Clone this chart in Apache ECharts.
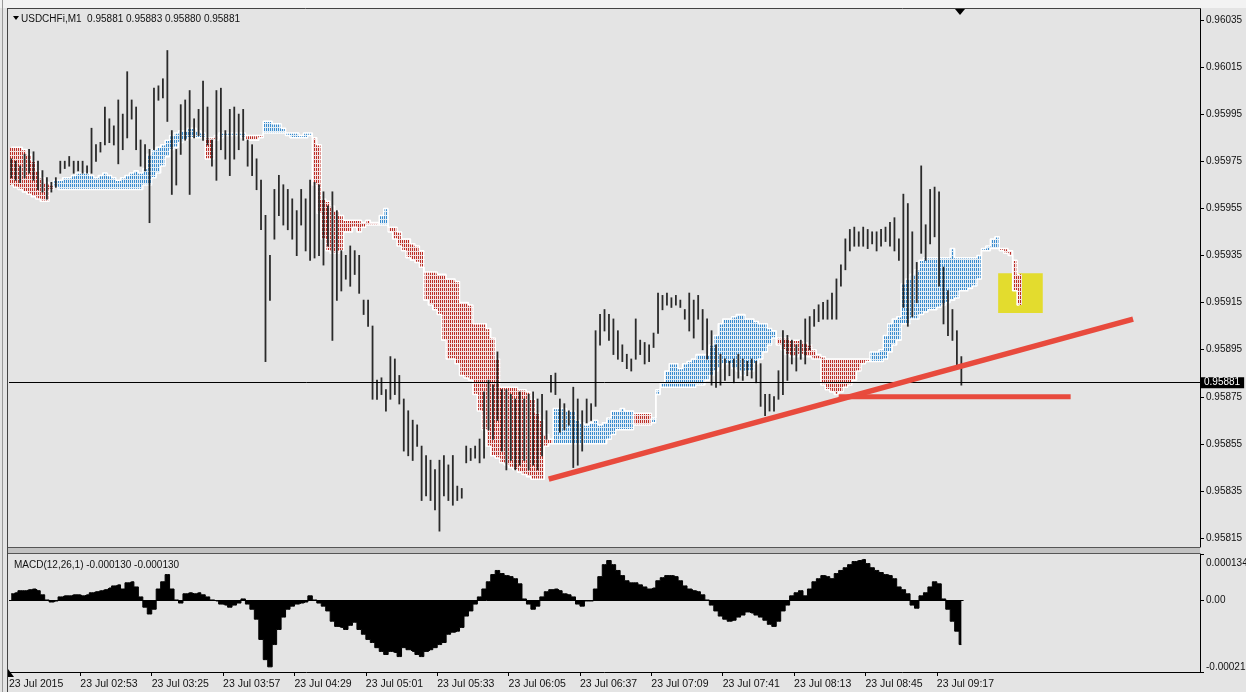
<!DOCTYPE html>
<html>
<head>
<meta charset="utf-8">
<title>USDCHFi,M1</title>
<script src="https://cdn.jsdelivr.net/npm/echarts@6.0.0/dist/echarts.min.js"></script>
<style>
  html, body { margin: 0; padding: 0; background: #e4e4e4; }
  #chart { width: 1246px; height: 692px; }
</style>
</head>
<body>
<div id="chart"></div>
<script>
// one slot = 2 minutes; minute 0 = 23 Jul 2015 02:21
const SLOT = 2;

const timeTicks = [0, 32, 64, 96, 128, 160, 192, 224, 256, 288, 320, 352, 384, 416];
const timeLabels = ['23 Jul 2015', '23 Jul 02:53', '23 Jul 03:25', '23 Jul 03:57', '23 Jul 04:29',
  '23 Jul 05:01', '23 Jul 05:33', '23 Jul 06:05', '23 Jul 06:37', '23 Jul 07:09',
  '23 Jul 07:41', '23 Jul 08:13', '23 Jul 08:45', '23 Jul 09:17'];

const priceTicks = [0.95815, 0.95835, 0.95855, 0.95875, 0.95895, 0.95915,
  0.95935, 0.95955, 0.95975, 0.95995, 0.96015, 0.96035];
const macdTicks = [0.000134, 0, -0.00021];
const macdTickText = ['0.000134', '0.00', '-0.00021'];

const lastOHLC = [0.95881, 0.95883, 0.95880, 0.95881];
const lastMacd = [-0.000130, -0.000130];

const high = [
  0.95976,0.95975,0.95973,0.95978,0.95980,0.95979,0.95975,0.95971,0.95968,0.95966,
  0.95968,0.95975,0.95975,0.95977,0.95975,0.95975,0.95975,0.95973,0.95989,0.95982,
  0.95983,0.95998,0.95993,0.95990,0.96001,0.95995,0.96013,0.96001,0.95998,0.95984,
  0.95982,0.95980,0.96006,0.96007,0.96010,0.96022,0.95988,0.95980,0.95999,0.96001,
  0.96005,0.95993,0.95997,0.96009,0.95998,0.95984,0.96005,0.96006,0.95988,0.95997,
  0.95998,0.95995,0.95997,0.95984,0.95982,0.95976,0.95967,0.95952,0.95935,0.95963,
  0.95969,0.95965,0.95963,0.95959,0.95954,0.95963,0.95959,0.95967,0.95966,0.95965,
  0.95962,0.95956,0.95962,0.95954,0.95937,0.95935,0.95939,0.95937,0.95935,0.95916,
  0.95916,0.95905,0.95882,0.95883,0.95878,0.95892,0.95891,0.95884,0.95874,0.95869,
  0.95865,0.95863,0.95854,0.95850,0.95848,0.95844,0.95848,0.95850,0.95846,0.95850,
  0.95837,0.95836,0.95854,0.95853,0.95854,0.95857,0.95877,0.95882,0.95880,0.95894,
  0.95878,0.95878,0.95876,0.95874,0.95877,0.95874,0.95876,0.95877,0.95874,0.95876,
  0.95869,0.95884,0.95885,0.95874,0.95872,0.95869,0.95879,0.95874,0.95869,0.95874,
  0.95872,0.95903,0.95910,0.95912,0.95910,0.95908,0.95903,0.95897,0.95893,0.95891,
  0.95908,0.95899,0.95898,0.95897,0.95902,0.95919,0.95918,0.95919,0.95917,0.95918,
  0.95916,0.95912,0.95919,0.95916,0.95918,0.95912,0.95908,0.95903,0.95897,0.95893,
  0.95891,0.95890,0.95891,0.95893,0.95891,0.95890,0.95891,0.95890,0.95889,0.95876,
  0.95876,0.95875,0.95886,0.95903,0.95901,0.95899,0.95897,0.95899,0.95908,0.95909,
  0.95912,0.95914,0.95915,0.95916,0.95919,0.95925,0.95931,0.95942,0.95946,0.95947,
  0.95945,0.95947,0.95946,0.95945,0.95945,0.95946,0.95947,0.95949,0.95951,0.95942,
  0.95961,0.95957,0.95945,0.95932,0.95973,0.95948,0.95963,0.95964,0.95962,0.95930,
  0.95920,0.95912,0.95903,0.95892
];
const low = [
  0.95968,0.95967,0.95966,0.95968,0.95970,0.95967,0.95963,0.95962,0.95959,0.95962,
  0.95964,0.95970,0.95972,0.95973,0.95970,0.95971,0.95970,0.95970,0.95970,0.95975,
  0.95979,0.95982,0.95983,0.95982,0.95974,0.95980,0.95985,0.95993,0.95980,0.95973,
  0.95971,0.95949,0.95980,0.96001,0.96002,0.95992,0.95961,0.95965,0.95978,0.95984,
  0.95961,0.95985,0.95986,0.95984,0.95982,0.95973,0.95967,0.95980,0.95976,0.95969,
  0.95976,0.95980,0.95984,0.95973,0.95969,0.95963,0.95946,0.95890,0.95916,0.95942,
  0.95952,0.95948,0.95946,0.95942,0.95935,0.95948,0.95937,0.95933,0.95934,0.95935,
  0.95931,0.95939,0.95899,0.95916,0.95920,0.95925,0.95922,0.95927,0.95919,0.95910,
  0.95905,0.95874,0.95874,0.95876,0.95869,0.95874,0.95876,0.95872,0.95852,0.95850,
  0.95848,0.95854,0.95831,0.95833,0.95831,0.95827,0.95818,0.95833,0.95831,0.95829,
  0.95831,0.95832,0.95847,0.95848,0.95849,0.95847,0.95849,0.95861,0.95857,0.95865,
  0.95852,0.95844,0.95848,0.95844,0.95846,0.95848,0.95844,0.95846,0.95844,0.95850,
  0.95857,0.95877,0.95876,0.95860,0.95861,0.95863,0.95845,0.95846,0.95852,0.95864,
  0.95865,0.95871,0.95897,0.95903,0.95899,0.95893,0.95891,0.95890,0.95887,0.95886,
  0.95891,0.95893,0.95889,0.95890,0.95896,0.95902,0.95912,0.95914,0.95913,0.95914,
  0.95913,0.95908,0.95903,0.95900,0.95908,0.95895,0.95891,0.95880,0.95879,0.95880,
  0.95882,0.95884,0.95881,0.95883,0.95882,0.95884,0.95883,0.95881,0.95871,0.95867,
  0.95869,0.95869,0.95874,0.95876,0.95882,0.95889,0.95886,0.95891,0.95889,0.95895,
  0.95905,0.95907,0.95908,0.95908,0.95908,0.95908,0.95922,0.95929,0.95937,0.95939,
  0.95939,0.95939,0.95938,0.95940,0.95937,0.95939,0.95941,0.95939,0.95937,0.95933,
  0.95913,0.95905,0.95909,0.95915,0.95936,0.95933,0.95940,0.95943,0.95922,0.95906,
  0.95901,0.95899,0.95888,0.95880
];

// Ichimoku cloud borders (Senkou Span A / B), shifted 26 bars ahead
const spanA = [
  0.95965,0.95964,0.95963,0.95962,0.95961,0.95960,0.95959,0.95958,0.95958,0.95963,
  0.95967,0.95967,0.95968,0.95968,0.95969,0.95970,0.95970,0.95970,0.95969,0.95968,
  0.95969,0.95970,0.95969,0.95968,0.95967,0.95968,0.95969,0.95970,0.95971,0.95970,
  0.95972,0.95978,0.95980,0.95981,0.95982,0.95984,0.95986,0.95987,0.95988,0.95988,
  0.95989,0.95989,0.95988,0.95987,0.95976,0.95976,0.95984,0.95987,0.95987,0.95987,
  0.95987,0.95987,0.95987,0.95984,0.95984,0.95984,0.95985,0.95992,0.95992,0.95991,
  0.95991,0.95989,0.95987,0.95987,0.95987,0.95986,0.95987,0.95987,0.95965,0.95953,
  0.95942,0.95937,0.95936,0.95936,0.95937,0.95945,0.95945,0.95947,0.95945,0.95947,
  0.95948,0.95948,0.95948,0.95952,0.95955,0.95945,0.95942,0.95939,0.95937,0.95934,
  0.95933,0.95932,0.95930,0.95916,0.95914,0.95912,0.95910,0.95899,0.95891,0.95891,
  0.95889,0.95884,0.95883,0.95882,0.95876,0.95869,0.95861,0.95854,0.95850,0.95849,
  0.95847,0.95846,0.95845,0.95844,0.95843,0.95842,0.95841,0.95840,0.95840,0.95840,
  0.95854,0.95855,0.95870,0.95870,0.95870,0.95869,0.95869,0.95865,0.95864,0.95863,
  0.95864,0.95865,0.95863,0.95864,0.95866,0.95869,0.95869,0.95870,0.95869,0.95869,
  0.95863,0.95863,0.95863,0.95863,0.95866,0.95878,0.95881,0.95886,0.95889,0.95889,
  0.95887,0.95889,0.95890,0.95891,0.95893,0.95893,0.95893,0.95897,0.95901,0.95906,
  0.95908,0.95908,0.95909,0.95910,0.95910,0.95908,0.95908,0.95907,0.95906,0.95906,
  0.95904,0.95903,0.95897,0.95895,0.95893,0.95892,0.95892,0.95893,0.95892,0.95892,
  0.95891,0.95891,0.95880,0.95878,0.95877,0.95876,0.95877,0.95879,0.95880,0.95882,
  0.95886,0.95889,0.95890,0.95894,0.95894,0.95895,0.95901,0.95906,0.95908,0.95909,
  0.95923,0.95925,0.95927,0.95929,0.95933,0.95934,0.95934,0.95934,0.95934,0.95934,
  0.95934,0.95938,0.95934,0.95934,0.95934,0.95934,0.95934,0.95935,0.95938,0.95939,
  0.95942,0.95943,0.95937,0.95936,0.95935,0.95920,0.95914
];
const spanB = [
  0.95981,0.95981,0.95981,0.95980,0.95978,0.95975,0.95971,0.95968,0.95966,0.95965,
  0.95964,0.95963,0.95963,0.95963,0.95963,0.95963,0.95963,0.95963,0.95963,0.95963,
  0.95963,0.95963,0.95963,0.95963,0.95963,0.95963,0.95963,0.95963,0.95963,0.95963,
  0.95965,0.95965,0.95968,0.95970,0.95973,0.95977,0.95980,0.95981,0.95983,0.95984,
  0.95985,0.95985,0.95985,0.95985,0.95985,0.95985,0.95986,0.95985,0.95986,0.95986,
  0.95986,0.95986,0.95985,0.95986,0.95986,0.95986,0.95986,0.95987,0.95987,0.95987,
  0.95987,0.95987,0.95986,0.95985,0.95985,0.95985,0.95985,0.95986,0.95985,0.95982,
  0.95959,0.95958,0.95956,0.95954,0.95952,0.95950,0.95950,0.95950,0.95950,0.95949,
  0.95950,0.95949,0.95949,0.95948,0.95948,0.95947,0.95947,0.95945,0.95942,0.95942,
  0.95940,0.95939,0.95937,0.95928,0.95928,0.95928,0.95927,0.95927,0.95925,0.95925,
  0.95924,0.95915,0.95915,0.95914,0.95906,0.95906,0.95906,0.95904,0.95900,0.95891,
  0.95879,0.95879,0.95879,0.95879,0.95878,0.95878,0.95877,0.95874,0.95868,0.95865,
  0.95859,0.95857,0.95855,0.95855,0.95855,0.95855,0.95855,0.95855,0.95855,0.95855,
  0.95855,0.95855,0.95855,0.95855,0.95857,0.95859,0.95861,0.95861,0.95861,0.95861,
  0.95868,0.95868,0.95868,0.95868,0.95864,0.95876,0.95879,0.95879,0.95879,0.95879,
  0.95879,0.95879,0.95879,0.95879,0.95880,0.95880,0.95882,0.95884,0.95886,0.95887,
  0.95889,0.95889,0.95887,0.95886,0.95884,0.95886,0.95886,0.95889,0.95891,0.95894,
  0.95897,0.95900,0.95900,0.95900,0.95900,0.95899,0.95899,0.95899,0.95898,0.95897,
  0.95895,0.95893,0.95892,0.95891,0.95891,0.95891,0.95891,0.95891,0.95891,0.95891,
  0.95891,0.95891,0.95891,0.95890,0.95890,0.95890,0.95891,0.95894,0.95897,0.95899,
  0.95906,0.95906,0.95908,0.95908,0.95910,0.95911,0.95912,0.95912,0.95913,0.95914,
  0.95915,0.95916,0.95917,0.95920,0.95920,0.95921,0.95922,0.95925,0.95937,0.95937,
  0.95938,0.95938,0.95938,0.95938,0.95937,0.95933,0.95927
];

// MACD(12,26,1) main line, in millionths
const macdMicro = [
  18,21,27,27,30,32,27,15,0,-6,
  -3,9,12,12,15,15,12,15,21,24,
  27,30,35,41,44,32,50,53,38,9,
  -21,-41,-27,32,53,74,32,0,-9,18,
  21,18,21,15,9,0,-3,-12,-15,-21,
  -15,-9,3,-12,-27,-56,-115,-174,-195,-130,
  -86,-50,-27,-18,-12,-9,-6,12,0,-9,
  -18,-32,-62,-77,-80,-86,-74,-65,-86,-100,
  -115,-124,-139,-150,-159,-150,-153,-165,-139,-145,
  -150,-159,-165,-150,-145,-139,-130,-124,-100,-94,
  -91,-80,-47,-32,-12,9,32,53,74,86,
  77,71,68,62,47,3,-12,-27,-18,9,
  24,30,32,27,18,15,9,-12,-18,-3,
  -3,32,68,103,115,103,86,71,56,50,
  50,44,38,32,35,56,65,71,71,68,
  56,41,32,27,24,15,0,-15,-32,-47,
  -56,-62,-59,-50,-44,-35,-38,-44,-50,-59,
  -71,-77,-62,-32,-15,12,21,27,12,32,
  53,62,71,68,62,77,86,94,103,112,
  115,118,106,94,86,80,74,71,62,38,
  30,18,-15,-24,12,21,38,53,47,3,
  -27,-62,-91,-130
];

// hand-drawn objects: [minute, price]
const trendUp = [[242, 0.95840], [504, 0.95908]];
const trendFlat = [[372, 0.95875], [476, 0.95875]];
const yellowBox = [[443.5, 0.959275], [463.5, 0.959106]];

const PRICE_MIN = 0.958112, PRICE_MAX = 0.960397;
const MACD_MIN = -0.00021, MACD_MAX = 0.000134;
const X_MAX = 534;

const barData = high.map((h, i) => [i * SLOT + 1, low[i], h]);
const cloudData = spanA.map((a, i) => [i * SLOT, a, spanB[i]]);
const spanAData = spanA.map((a, i) => [i * SLOT + 1, a]);
const spanBData = spanB.map((b, i) => [i * SLOT + 1, b]);
const macdData = macdMicro.map((v, i) => [i * SLOT + 1, v / 1e6]);

function tile(dash, bg) {
  const c = document.createElement('canvas');
  c.width = 2; c.height = 4;
  const g = c.getContext('2d');
  g.fillStyle = bg; g.fillRect(0, 0, 2, 4);
  g.fillStyle = dash; g.fillRect(0, 0, 1, 3);
  return { image: c, repeat: 'repeat' };
}
const bluePattern = tile('#3a8ccf', '#e2edf5');
const redPattern = tile('#bb2e27', '#f3e0e0');

const FONT = '"Liberation Sans", Arial, sans-serif';
const chart = echarts.init(document.getElementById('chart'));

const option = {
  animation: false,
  backgroundColor: '#e4e4e4',
  textStyle: { fontFamily: FONT },
  grid: [
    { left: 9, top: 9, width: 1191, height: 538, containLabel: false, outerBoundsMode: 'none' },
    { left: 9, top: 554, width: 1191, height: 118, containLabel: false, outerBoundsMode: 'none' }
  ],
  xAxis: [
    { gridIndex: 0, type: 'value', min: 0, max: X_MAX, show: false },
    {
      gridIndex: 1, type: 'value', min: 0, max: X_MAX,
      axisLine: { onZero: false, lineStyle: { color: '#000', width: 1 } },
      axisTick: { customValues: timeTicks, length: 4, lineStyle: { color: '#000' } },
      axisLabel: {
        customValues: timeTicks, align: 'left', margin: 7, fontSize: 10.5, color: '#111',
        formatter: (v) => timeLabels[timeTicks.indexOf(Math.round(v))]
      },
      splitLine: { show: false }
    }
  ],
  yAxis: [
    {
      gridIndex: 0, type: 'value', position: 'right', min: PRICE_MIN, max: PRICE_MAX,
      axisLine: { show: true, onZero: false, lineStyle: { color: '#000' } },
      axisTick: { show: true, customValues: priceTicks, length: 4, lineStyle: { color: '#000' } },
      axisLabel: {
        customValues: priceTicks, margin: 6, fontSize: 10, color: '#111',
        formatter: (v) => v.toFixed(5)
      },
      splitLine: { show: false }
    },
    {
      gridIndex: 1, type: 'value', position: 'right', min: MACD_MIN, max: MACD_MAX,
      axisLine: { show: true, onZero: false, lineStyle: { color: '#000' } },
      axisTick: { show: true, customValues: macdTicks, length: 4, lineStyle: { color: '#000' } },
      axisLabel: {
        customValues: macdTicks, margin: 6, fontSize: 10, color: '#111',
        formatter: (v) => {
          let k = 0;
          macdTicks.forEach((t, i) => { if (Math.abs(t - v) < Math.abs(macdTicks[k] - v)) k = i; });
          return k === 0 ? '{t|' + macdTickText[k] + '}' : k === 2 ? '{b|' + macdTickText[k] + '}' : macdTickText[k];
        },
        rich: {
          t: { fontSize: 10, color: '#111', padding: [18, 0, 0, 0] },
          b: { fontSize: 10, color: '#111', padding: [0, 0, 10, 0] }
        }
      },
      splitLine: { show: false }
    }
  ],
  series: [
    {
      // yellow highlight box
      type: 'line', xAxisIndex: 0, yAxisIndex: 0, data: [], z: 1,
      markArea: {
        silent: true,
        itemStyle: { color: '#e3dc2e', opacity: 1 },
        data: [[{ coord: yellowBox[0] }, { coord: yellowBox[1] }]]
      }
    },
    {
      type: 'custom', xAxisIndex: 0, yAxisIndex: 0, z: 2,
      data: cloudData,
      encode: { x: 0, y: [1, 2] },
      renderItem: (params, api) => {
        const x0 = api.value(0), a = api.value(1), b = api.value(2);
        const p1 = api.coord([x0, Math.max(a, b)]);
        const p2 = api.coord([x0 + SLOT, Math.min(a, b)]);
        return {
          type: 'rect',
          shape: { x: p1[0], y: p1[1], width: p2[0] - p1[0] + 0.4, height: Math.max(p2[1] - p1[1], 0) },
          style: { fill: a >= b ? bluePattern : redPattern }
        };
      }
    },
    {
      type: 'line', xAxisIndex: 0, yAxisIndex: 0, z: 3, data: spanAData, step: 'middle',
      symbol: 'none', lineStyle: { color: '#ffffff', width: 1.5 }, silent: true
    },
    {
      type: 'line', xAxisIndex: 0, yAxisIndex: 0, z: 3, data: spanBData, step: 'middle',
      symbol: 'none', lineStyle: { color: '#ffffff', width: 1.5 }, silent: true
    },
    {
      type: 'custom', xAxisIndex: 0, yAxisIndex: 0, z: 4,
      data: barData,
      encode: { x: 0, y: [1, 2] },
      renderItem: (params, api) => {
        const x = api.value(0);
        const lo = api.coord([x, api.value(1)]);
        const hi = api.coord([x, api.value(2)]);
        return {
          type: 'line',
          shape: { x1: lo[0], y1: lo[1] + 0.5, x2: hi[0], y2: hi[1] - 0.5 },
          style: { stroke: '#2a2a2a', lineWidth: 1.8 }
        };
      }
    },
    {
      // current price line
      type: 'line', xAxisIndex: 0, yAxisIndex: 0, data: [], z: 5,
      markLine: {
        silent: true, symbol: ['none', 'none'],
        lineStyle: { color: '#000', width: 1, type: 'solid' },
        label: {
          position: 'end', distance: 1, formatter: () => lastOHLC[3].toFixed(5),
          backgroundColor: '#000', color: '#fff', fontSize: 10, padding: [1, 4, 0, 3]
        },
        data: [[{ coord: [0, lastOHLC[3]] }, { coord: [X_MAX, lastOHLC[3]] }]]
      }
    },
    {
      type: 'line', xAxisIndex: 0, yAxisIndex: 0, z: 6, data: trendUp, symbol: 'none',
      lineStyle: { color: '#e84a3d', width: 5.5, cap: 'butt' }, silent: true
    },
    {
      type: 'line', xAxisIndex: 0, yAxisIndex: 0, z: 6, data: trendFlat, symbol: 'none',
      lineStyle: { color: '#e84a3d', width: 5, cap: 'butt' }, silent: true
    },
    {
      type: 'line', xAxisIndex: 1, yAxisIndex: 1, data: macdData, step: 'middle',
      symbol: 'none', lineStyle: { color: '#000', width: 1 },
      areaStyle: { color: '#000', opacity: 1 }, silent: true,
      markLine: {
        silent: true, symbol: ['none', 'none'],
        lineStyle: { color: '#000', width: 1, type: 'solid' }, label: { show: false },
        data: [[{ coord: [0, 0] }, { coord: [macdMicro.length * SLOT, 0] }]]
      }
    }
  ],
  graphic: [
    { type: 'rect', shape: { x: 0, y: 0, width: 1246, height: 8 }, style: { fill: '#f3f3f3' }, z: 100 },
    { type: 'line', shape: { x1: 7, y1: 8.5, x2: 1201, y2: 8.5 }, style: { stroke: '#444', lineWidth: 1 }, z: 100 },
    { type: 'line', shape: { x1: 2.5, y1: 0, x2: 2.5, y2: 692 }, style: { stroke: '#9a9a9a', lineWidth: 1 }, z: 100 },
    { type: 'line', shape: { x1: 7.5, y1: 8, x2: 7.5, y2: 692 }, style: { stroke: '#444', lineWidth: 1 }, z: 100 },
    { type: 'rect', shape: { x: 8, y: 547, width: 1192, height: 6 }, style: { fill: '#c2c2c2' }, z: 100 },
    { type: 'line', shape: { x1: 8, y1: 547.5, x2: 1200, y2: 547.5 }, style: { stroke: '#555', lineWidth: 1 }, z: 100 },
    { type: 'line', shape: { x1: 8, y1: 553.5, x2: 1200, y2: 553.5 }, style: { stroke: '#555', lineWidth: 1 }, z: 100 },
    { type: 'polygon', shape: { points: [[13, 16], [19, 16], [16, 20]] }, style: { fill: '#000' }, z: 100 },
    {
      type: 'text', x: 21, y: 19, z: 100,
      style: {
        text: 'USDCHFi,M1  ' + lastOHLC.map((v) => v.toFixed(5)).join(' '),
        font: '10px ' + FONT, fill: '#111', verticalAlign: 'middle'
      }
    },
    {
      type: 'text', x: 14, y: 565, z: 100,
      style: {
        text: 'MACD(12,26,1) ' + lastMacd.map((v) => v.toFixed(6)).join(' '),
        font: '10px ' + FONT, fill: '#111', verticalAlign: 'middle'
      }
    },
    { type: 'polygon', shape: { points: [[955, 9], [965, 9], [960, 15]] }, style: { fill: '#000' }, z: 100 },
    { type: 'polygon', shape: { points: [[8, 669], [8, 677], [14, 677]] }, style: { fill: '#000' }, z: 100 }
  ]
};

chart.setOption(option);
</script>
</body>
</html>
